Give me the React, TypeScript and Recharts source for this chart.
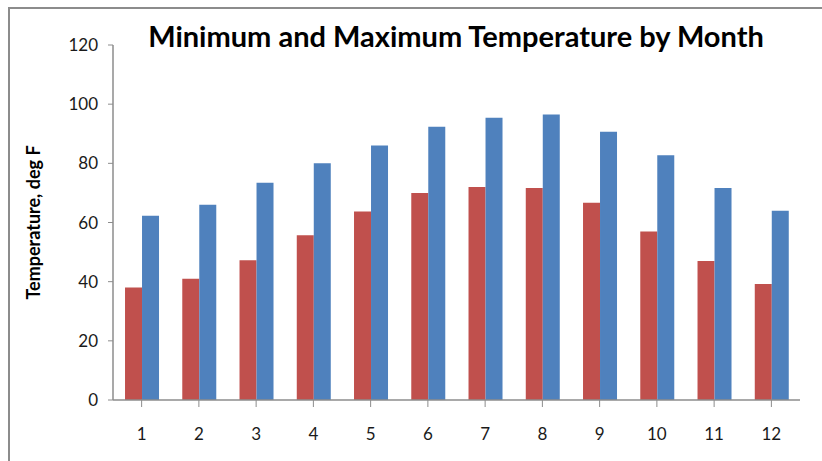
import { Bar, BarChart, Label, XAxis, YAxis } from "recharts";

const MONTHS = ["1", "2", "3", "4", "5", "6", "7", "8", "9", "10", "11", "12"];
const MIN_TEMP = [38, 41, 47.2, 55.7, 63.7, 70, 72, 71.7, 66.7, 57, 47, 39.2];
const MAX_TEMP = [62.3, 66, 73.4, 80, 86, 92.4, 95.4, 96.5, 90.7, 82.7, 71.7, 64];
const Y_TICKS = [0, 20, 40, 60, 80, 100, 120];

const RED = "#C0504D";
const BLUE = "#4F81BD";
const AXIS = "#8c8c8c";
const FONT = "Lato, 'Open Sans', sans-serif";

const data = MONTHS.map((m, i) => ({ month: m, min: MIN_TEMP[i], max: MAX_TEMP[i] }));

export default function App() {
  return (
    <div style={{ position: "absolute", left: 0, top: 0, width: 822, height: 461, background: "#fff", fontFamily: FONT }}>
      {/* chart frame, only top and left edges show */}
      <div
        style={{
          position: "absolute",
          left: 8,
          top: 7,
          width: 814,
          height: 454,
          borderLeft: `2px solid ${AXIS}`,
          borderTop: `2px solid ${AXIS}`,
          boxSizing: "border-box",
        }}
      />
      <div
        style={{
          position: "absolute",
          left: 113,
          top: 19,
          width: 686,
          textAlign: "center",
          fontSize: 29,
          fontWeight: 700,
          lineHeight: "34px",
          color: "#000",
        }}
      >
        Minimum and Maximum Temperature by Month
      </div>
      <BarChart
        width={822}
        height={461}
        data={data}
        margin={{ top: 45, right: 22, bottom: 0, left: 0 }}
        barCategoryGap="21%"
        barGap={0}
        style={{ position: "absolute", left: 0, top: 0 }}
      >
        <XAxis
          dataKey="month"
          height={61}
          tickSize={7}
          tickMargin={21}
          interval={0}
          axisLine={{ stroke: AXIS, strokeWidth: 1.5 }}
          tickLine={{ stroke: AXIS }}
          tick={{ fill: "#1a1a1a", fontSize: 17, fontFamily: FONT }}
        />
        <YAxis
          width={113}
          domain={[0, 120]}
          ticks={Y_TICKS}
          interval={0}
          tickSize={5}
          tickMargin={10}
          axisLine={{ stroke: AXIS, strokeWidth: 1.5 }}
          tickLine={{ stroke: AXIS }}
          tick={{ fill: "#1a1a1a", fontSize: 17, fontFamily: FONT }}
        >
          <Label
            value="Temperature, deg F"
            angle={-90}
            position="insideLeft"
            offset={0}
            dx={34}
            style={{ fontSize: 18, fontWeight: 700, fill: "#000", fontFamily: FONT, textAnchor: "middle" }}
          />
        </YAxis>
        <Bar dataKey="min" fill={RED} isAnimationActive={false} />
        <Bar dataKey="max" fill={BLUE} isAnimationActive={false} />
      </BarChart>
    </div>
  );
}
